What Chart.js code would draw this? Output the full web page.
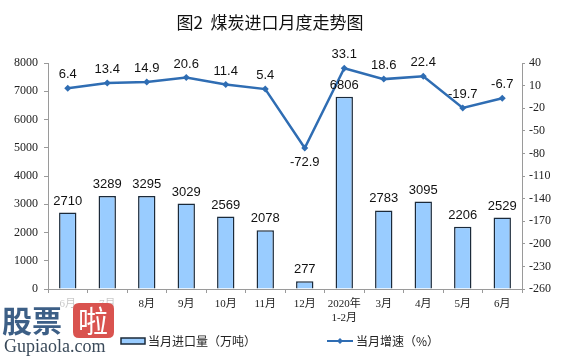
<!DOCTYPE html>
<html>
<head>
<meta charset="utf-8">
<script src="https://cdn.jsdelivr.net/npm/chart.js@4/dist/chart.umd.min.js"></script>
<style>
html,body{margin:0;padding:0;background:#fff;}
#wrap{width:561px;height:357px;position:relative;}
</style>
</head>
<body>
<div id="wrap"><canvas id="c" width="561" height="357"></canvas></div>
<script>
const categories = ['6月', '7月', '8月', '9月', '10月', '11月', '12月', ['2020年', '1-2月'], '3月', '4月', '5月', '6月'];
const importVolume = [2710, 3289, 3295, 3029, 2569, 2078, 277, 6806, 2783, 3095, 2206, 2529];
const growthRate = [6.4, 13.4, 14.9, 20.6, 11.4, 5.4, -72.9, 33.1, 18.6, 22.4, -19.7, -6.7];
const leftTicks = [0, 1000, 2000, 3000, 4000, 5000, 6000, 7000, 8000];
const rightTicks = [40, 10, -20, -50, -80, -110, -140, -170, -200, -230, -260];
const titleText = '图2  煤炭进口月度走势图';
const seriesNames = ['当月进口量（万吨）', '当月增速（%）'];

const barColor = '#99CCFF';
const barBorder = '#1b2a3a';
const lineColor = '#2F6DB3';
const axisColor = '#9a9a9a';
const tickFont = {family: '"Liberation Serif", "Noto Sans CJK SC", serif', size: 12};
const xTickFont = {family: '"Liberation Serif", "Noto Sans CJK SC", serif', size: 11};

const labelPlugin = {
  id: 'labels',
  afterDatasetsDraw(chart) {
    const ctx = chart.ctx;
    ctx.save();
    ctx.font = '13px "Liberation Sans", Arial, sans-serif';
    ctx.fillStyle = '#111';
    ctx.textAlign = 'center';
    chart.getDatasetMeta(0).data.forEach((el, i) => {
      ctx.textBaseline = 'bottom';
      ctx.fillText(String(importVolume[i]), el.x, el.y - 5);
    });
    chart.getDatasetMeta(1).data.forEach((el, i) => {
      const v = growthRate[i];
      if (v < -50) {
        ctx.textBaseline = 'top';
        ctx.fillText(v.toFixed(1), el.x, el.y + 8);
      } else {
        ctx.textBaseline = 'bottom';
        ctx.fillText(v.toFixed(1), el.x, el.y - 7);
      }
    });
    ctx.restore();
  },
  afterDraw(chart) {
    const ctx = chart.ctx;
    ctx.save();
    // title
    ctx.font = '17px "Noto Sans CJK SC", sans-serif';
    ctx.fillStyle = '#111';
    ctx.textAlign = 'center';
    ctx.textBaseline = 'middle';
    ctx.fillText(titleText, 270, 23);
    // legend
    const ly = 341;
    ctx.font = '12px "Noto Sans CJK SC", sans-serif';
    ctx.textAlign = 'left';
    ctx.fillStyle = barColor;
    ctx.fillRect(121, ly - 3, 24, 6);
    ctx.strokeStyle = barBorder;
    ctx.lineWidth = 1.5;
    ctx.strokeRect(121, ly - 3, 24, 6);
    ctx.fillStyle = '#222';
    ctx.fillText(seriesNames[0], 148, ly);
    ctx.strokeStyle = lineColor;
    ctx.lineWidth = 2;
    ctx.beginPath();
    ctx.moveTo(327, ly);
    ctx.lineTo(353, ly);
    ctx.stroke();
    ctx.fillStyle = lineColor;
    ctx.beginPath();
    ctx.moveTo(340, ly - 3); ctx.lineTo(343, ly); ctx.lineTo(340, ly + 3); ctx.lineTo(337, ly);
    ctx.closePath(); ctx.fill();
    ctx.fillStyle = '#222';
    ctx.fillText(seriesNames[1], 356, ly);
    // watermark
    ctx.fillStyle = 'rgba(255,255,255,0.75)';
    ctx.fillRect(0, 293, 118, 64);
    ctx.font = 'bold 30px "Noto Sans CJK SC", sans-serif';
    ctx.fillStyle = '#3d5f86';
    ctx.textBaseline = 'middle';
    ctx.fillText('股票', 2, 321);
    ctx.fillStyle = '#d9534f';
    const rx = 73, ry = 303, rw = 41, rh = 35, r = 6;
    ctx.beginPath();
    ctx.moveTo(rx + r, ry); ctx.lineTo(rx + rw - r, ry); ctx.quadraticCurveTo(rx + rw, ry, rx + rw, ry + r);
    ctx.lineTo(rx + rw, ry + rh - r); ctx.quadraticCurveTo(rx + rw, ry + rh, rx + rw - r, ry + rh);
    ctx.lineTo(rx + r, ry + rh); ctx.quadraticCurveTo(rx, ry + rh, rx, ry + rh - r);
    ctx.lineTo(rx, ry + r); ctx.quadraticCurveTo(rx, ry, rx + r, ry);
    ctx.closePath(); ctx.fill();
    ctx.fillStyle = '#fff';
    ctx.font = '30px "Noto Sans CJK SC", sans-serif';
    ctx.fillText('啦', 78, 321);
    ctx.font = '18px "Liberation Serif", serif';
    ctx.fillStyle = '#3a4a5a';
    ctx.fillText('Gupiaola.com', 4, 347);
    ctx.restore();
  }
};

new Chart(document.getElementById('c'), {
  type: 'bar',
  data: {
    labels: categories,
    datasets: [
      {
        type: 'bar',
        label: seriesNames[0],
        data: importVolume,
        yAxisID: 'y',
        backgroundColor: barColor,
        borderColor: barBorder,
        borderWidth: 1.5,
        barPercentage: 0.44,
        categoryPercentage: 1.0,
        order: 2
      },
      {
        type: 'line',
        label: seriesNames[1],
        data: growthRate,
        yAxisID: 'y1',
        borderColor: lineColor,
        backgroundColor: lineColor,
        borderWidth: 2.5,
        pointStyle: 'rectRot',
        pointRadius: 3.5,
        pointBorderWidth: 0,
        tension: 0,
        order: 1
      }
    ]
  },
  options: {
    responsive: false,
    animation: false,
    layout: {padding: {top: 63, bottom: 30, left: 0, right: 0}},
    plugins: {legend: {display: false}, tooltip: {enabled: false}, title: {display: false}},
    scales: {
      x: {
        grid: {display: true, drawOnChartArea: false, offset: true, tickLength: 4, color: axisColor},
        border: {color: axisColor},
        ticks: {font: xTickFont, color: '#222', padding: 5, maxRotation: 0, autoSkip: false},
        afterFit(s) { s.height = 38; }
      },
      y: {
        position: 'left',
        min: 0, max: 8000,
        afterBuildTicks(s) { s.ticks = leftTicks.map(v => ({value: v})); },
        grid: {drawOnChartArea: false, tickLength: 4, color: axisColor},
        border: {color: axisColor},
        ticks: {font: tickFont, color: '#222', padding: 6, callback: v => String(v)},
        afterFit(s) { s.width = 48; }
      },
      y1: {
        position: 'right',
        min: -260, max: 40,
        afterBuildTicks(s) { s.ticks = rightTicks.map(v => ({value: v})); },
        grid: {drawOnChartArea: false, tickLength: 3, color: axisColor},
        border: {color: axisColor},
        ticks: {font: tickFont, color: '#222', padding: 4, callback: v => String(v)},
        afterFit(s) { s.width = 39; }
      }
    }
  },
  plugins: [labelPlugin]
});
</script>
</body>
</html>
